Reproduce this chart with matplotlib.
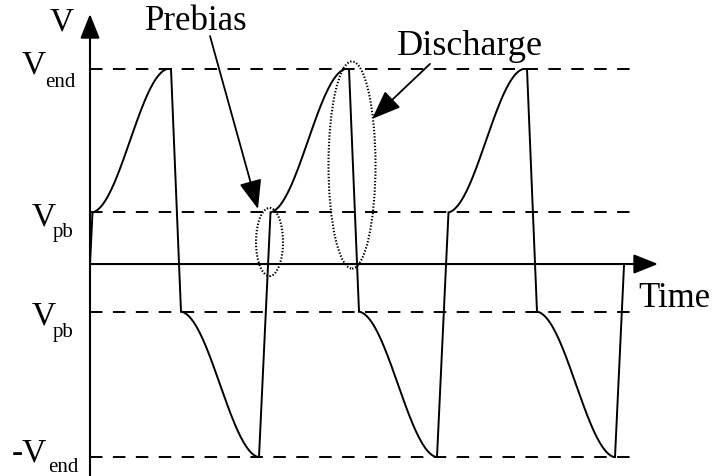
import numpy as np
import matplotlib.pyplot as plt
from matplotlib.patches import Ellipse

plt.rcParams['font.family'] = ['Liberation Serif', 'DejaVu Serif']
plt.rcParams['lines.scale_dashes'] = False

# voltage levels, normalised to V_end
v_end = 1.0
v_pb = 0.265
v_pb_neg = -0.245
v_end_neg = -0.99

# timing of one period (time axis units)
period = 178
n_cycles = 3
t_pb = 2.5              # rising edge reaches V_pb
ramp_up = (3, 77)       # S-ramp V_pb -> V_end
t_dis = 81              # discharge starts
t_pb_neg = 91           # discharge reaches -V_pb
ramp_dn = (92, 168)     # S-ramp -V_pb -> -V_end
t_low = 169             # end of negative half


def s_ramp(t0, t1, y0, y1, n=80):
    s = np.linspace(0, 1, n)
    shape = 0.85 * (1 - np.cos(np.pi * s)) / 2 + 0.15 * s
    return t0 + (t1 - t0) * s, y0 + (y1 - y0) * shape


# build the waveform
ts = [0.0]
vs = [0.0]
for k in range(n_cycles):
    c = k * period
    ts += [c + t_pb]
    vs += [v_pb]
    t, v = s_ramp(c + ramp_up[0], c + ramp_up[1], v_pb, v_end)
    ts += list(t) + [c + t_dis, c + t_pb_neg]
    vs += list(v) + [v_end, v_pb_neg]
    t, v = s_ramp(c + ramp_dn[0], c + ramp_dn[1], v_pb_neg, v_end_neg)
    ts += list(t) + [c + t_low]
    vs += list(v) + [v_end_neg]

# last rising edge stops where it crosses the time axis
c_last = (n_cycles - 1) * period
edge = period + t_pb - t_low
ts += [c_last + t_low + edge * (-v_end_neg) / (v_pb - v_end_neg)]
vs += [0.0]

fig = plt.figure(figsize=(7.13, 4.77), dpi=100)
ax = fig.add_axes([0, 0, 1, 1])
ax.set_xlim(-90, 623)
ax.set_ylim(-1.087, 1.359)
ax.axis('off')

# reference levels
x_dash_end = 545
for lev in [v_end, v_pb, v_pb_neg, v_end_neg]:
    ax.plot([0, x_dash_end], [lev, lev], color='k', lw=1.4, dashes=(9, 7.5))

# axes with arrow heads
arrow = dict(arrowstyle='-|>,head_length=0.75,head_width=0.3', color='k', lw=1.5,
             mutation_scale=20, shrinkA=0, shrinkB=0)
ax.annotate('', xy=(0, 1.282), xytext=(0, -1.087), arrowprops=arrow)
ax.annotate('', xy=(568, 0), xytext=(0, 0), arrowprops=arrow)

ax.plot(ts, vs, color='k', lw=1.4, solid_joinstyle='miter')

# level labels
fs_big = 24
fs_sub = 15
labels = [
    (v_end, 'V', 'end', -68, -3, -45, -17),
    (v_pb, 'V', 'pb', -58, -12, -37, -24),
    (v_pb_neg, 'V', 'pb', -58, -12, -37, -24),
    (v_end_neg, '-V', 'end', -78, -3, -42, -14),
]
for lev, main, sub, mx, my, sx, sy in labels:
    ax.annotate(main, xy=(0, lev), xytext=(mx, my), textcoords='offset pixels',
                ha='left', va='baseline', fontsize=fs_big)
    ax.annotate(sub, xy=(0, lev), xytext=(sx, sy), textcoords='offset pixels',
                ha='left', va='baseline', fontsize=fs_sub)

ax.text(-40, 1.205, 'V', ha='left', va='baseline', fontsize=fs_big)
ax.text(548, -0.215, 'Time', ha='left', va='baseline', fontsize=25)

# highlighted regions: prebias edge and discharge edge of the second cycle
dotted = dict(fill=False, ls=(0, (1, 1.3)), lw=1.5, ec='k')
pre_x = period + 1.5
ax.add_patch(Ellipse((pre_x, 0.113), 27, 0.35, **dotted))
dis_x = period + (t_dis + t_pb_neg) / 2 - 2
ax.add_patch(Ellipse((dis_x, 0.508), 47, 1.062, **dotted))

head = dict(arrowstyle='-|>,head_length=0.9,head_width=0.35', color='k', lw=1.3,
            mutation_scale=20, shrinkA=0, shrinkB=0)
ax.text(55, 1.205, 'Prebias', ha='left', va='baseline', fontsize=25)
ax.annotate('', xy=(168, 0.282), xytext=(120, 1.169), arrowprops=head)
ax.text(307, 1.077, 'Discharge', ha='left', va='baseline', fontsize=26)
ax.annotate('', xy=(282, 0.744), xytext=(340, 1.026), arrowprops=head)

fig.savefig('out.png', dpi=100)
